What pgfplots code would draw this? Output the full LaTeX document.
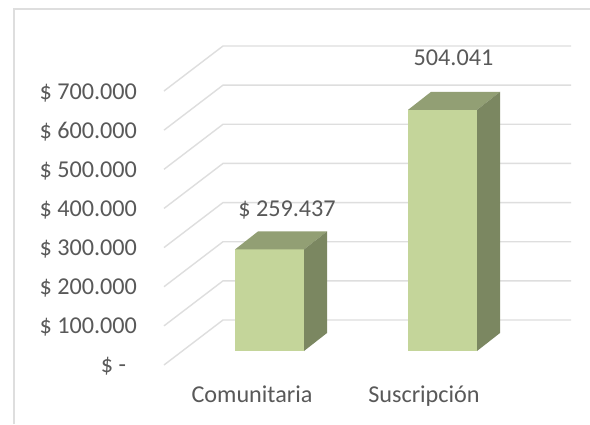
\documentclass[border=0pt]{standalone}
\usepackage{pgfplots}
\pgfplotsset{compat=1.18}
\usepackage{fontspec}
\setmainfont{Carlito}
\definecolor{txt}{HTML}{595959}
\definecolor{gridc}{HTML}{DEDEDE}
\definecolor{frontc}{HTML}{C4D59A}
\definecolor{topc}{HTML}{929F74}
\definecolor{sidec}{HTML}{7B8761}
\begin{document}
\begin{tikzpicture}[x=1pt,y=1pt]
\path[use as bounding box] (0,0) rectangle (590,424);
\fill[white] (0,0) rectangle (590,424);
\draw[gridc,line width=2pt] (13.5,0) -- (13.5,414.5) -- (590,414.5);
\begin{axis}[
  at={(164pt,59pt)}, anchor=origin, shift={(0,0)},
  scale only axis, width=407pt, height=319pt,
  xmin=164, xmax=571, ymin=0, ymax=815000,
  clip=false,
  axis line style={draw=none},
  axis x line*=bottom, axis y line*=left,
  major tick length=0pt,
  scaled y ticks=false,
  xtick={252,424}, xticklabels={Comunitaria,Suscripción},
  ytick={0,100000,200000,300000,400000,500000,600000,700000},
  yticklabels={\$ -\rule{11pt}{0pt},\$ 100.000,\$ 200.000,\$ 300.000,\$ 400.000,\$ 500.000,\$ 600.000,\$ 700.000},
  tick label style={font=\fontsize{24.2}{26}\selectfont,text=txt},
  yticklabel style={anchor=east,xshift=-23.5pt,yshift=-1.5pt},
  xticklabel style={anchor=center,yshift=-31.5pt,text height=16pt,text depth=5pt},
]
% walls: front end, back corner, back end at each value
\pgfplotsinvokeforeach{0,100000,200000,300000,400000,500000,600000,700000}{
  \addplot[gridc,line width=1.4pt,mark=none] coordinates {(164,#1) (223,#1+114972) (571,#1+114972)};
}
% Comunitaria
\addplot[ybar,bar width=69pt,bar shift=0pt,fill=frontc,draw=none,yshift=14pt] coordinates {(269.5,259437)};
\addplot[fill=topc,draw=none,yshift=14pt,mark=none] coordinates {(235,259437) (258,305425) (327,305425) (304,259437)} -- cycle;
\addplot[fill=sidec,draw=none,yshift=14pt,mark=none] coordinates {(304,0) (327,45988) (327,305425) (304,259437)} -- cycle;
% Suscripcion
\addplot[ybar,bar width=69pt,bar shift=0pt,fill=frontc,draw=none,yshift=14pt] coordinates {(442.5,616000)};
\addplot[fill=topc,draw=none,yshift=14pt,mark=none] coordinates {(408,616000) (431,661988) (500,661988) (477,616000)} -- cycle;
\addplot[fill=sidec,draw=none,yshift=14pt,mark=none] coordinates {(477,0) (500,45988) (500,661988) (477,616000)} -- cycle;
\node[text=txt,font=\fontsize{24.2}{26}\selectfont] at (axis cs:287,396000) {\$ 259.437};
\node[text=txt,font=\fontsize{24.2}{26}\selectfont] at (axis cs:453.5,785000) {504.041};
\end{axis}
\end{tikzpicture}
\end{document}
